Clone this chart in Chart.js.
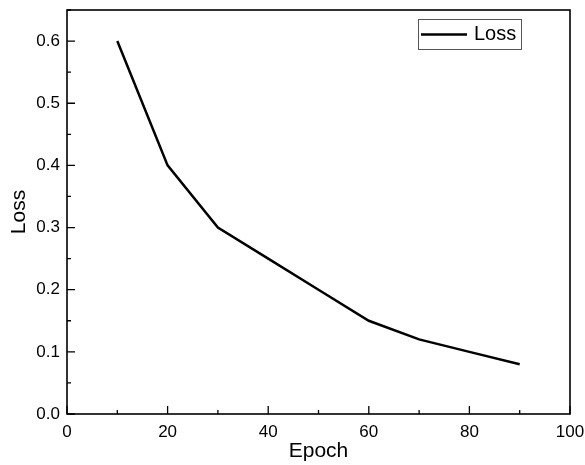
<!DOCTYPE html>
<html>
<head>
<meta charset="utf-8">
<script src="https://cdn.jsdelivr.net/npm/chart.js@4"></script>
<style>
  body { margin: 0; background: #fff; }
  #wrap { width: 585px; height: 465px; }
</style>
</head>
<body>
<div id="wrap"><canvas id="Chart" width="585" height="465"></canvas></div>
<script>
// data
const epochs = [10, 20, 30, 40, 50, 60, 70, 80, 90];
const loss = [0.6, 0.4, 0.3, 0.25, 0.2, 0.15, 0.12, 0.1, 0.08];
const xTicks = [0, 20, 40, 60, 80, 100];
const yTicks = [0, 0.1, 0.2, 0.3, 0.4, 0.5, 0.6];
const seriesName = 'Loss';

const FONT = '"Liberation Sans", Arial, sans-serif';

// frame + inward ticks (major and minor), like the origin-style plot
const frameTicks = {
  id: 'frameTicks',
  afterDraw(chart) {
    const { ctx, chartArea: a, scales } = chart;
    ctx.save();
    ctx.strokeStyle = '#000';
    ctx.lineWidth = 1.6;
    ctx.strokeRect(a.left, a.top, a.right - a.left, a.bottom - a.top);
    ctx.lineWidth = 1.3;
    ctx.beginPath();
    const xs = scales.x;
    for (let i = 0; i < xTicks.length; i++) {
      const px = xs.getPixelForValue(xTicks[i]);
      ctx.moveTo(px, a.bottom); ctx.lineTo(px, a.bottom - 8);
      if (i < xTicks.length - 1) {
        const mx = xs.getPixelForValue((xTicks[i] + xTicks[i + 1]) / 2);
        ctx.moveTo(mx, a.bottom); ctx.lineTo(mx, a.bottom - 4);
      }
    }
    const ys = scales.y;
    for (let i = 0; i < yTicks.length; i++) {
      const py = ys.getPixelForValue(yTicks[i]);
      ctx.moveTo(a.left, py); ctx.lineTo(a.left + 8, py);
      const mv = yTicks[i] + 0.05;
      if (mv <= ys.max) {
        const my = ys.getPixelForValue(mv);
        ctx.moveTo(a.left, my); ctx.lineTo(a.left + 4, my);
      }
    }
    ctx.stroke();
    ctx.restore();
  }
};

// legend box inside the plot, top right
const boxLegend = {
  id: 'boxLegend',
  afterDraw(chart) {
    const { ctx } = chart;
    ctx.save();
    ctx.strokeStyle = '#555';
    ctx.lineWidth = 1;
    ctx.strokeRect(418.5, 19.5, 103, 30);
    ctx.strokeStyle = '#000';
    ctx.lineWidth = 2.5;
    ctx.beginPath();
    ctx.moveTo(421, 34.5); ctx.lineTo(467, 34.5);
    ctx.stroke();
    ctx.fillStyle = '#000';
    ctx.font = '20px ' + FONT;
    ctx.textBaseline = 'middle';
    ctx.fillText(seriesName, 474, 34);
    ctx.restore();
  }
};

const noPad = s => { s.paddingLeft = 0; s.paddingRight = 0; s.paddingTop = 0; s.paddingBottom = 0; };

new Chart(document.getElementById('Chart').getContext('2d'), {
  type: 'line',
  data: {
    datasets: [{
      label: seriesName,
      data: epochs.map((e, i) => ({ x: e, y: loss[i] })),
      borderColor: '#000',
      borderWidth: 2.5,
      pointRadius: 0,
      tension: 0,
      fill: false
    }]
  },
  options: {
    responsive: false,
    animation: false,
    layout: { padding: { top: 10, right: 15, left: 0, bottom: 0 } },
    plugins: { legend: { display: false }, tooltip: { enabled: false } },
    scales: {
      x: {
        type: 'linear',
        min: 0, max: 100,
        afterBuildTicks: s => { s.ticks = xTicks.map(v => ({ value: v })); },
        afterFit: s => { s.height = 51; noPad(s); },
        grid: { display: false, drawTicks: false },
        border: { display: false },
        ticks: { color: '#000', padding: 8, font: { family: FONT, size: 17 }, maxRotation: 0 },
        title: { display: true, text: 'Epoch', color: '#000', font: { family: FONT, size: 21 }, padding: { top: 0, bottom: 1 } }
      },
      y: {
        min: 0, max: 0.65,
        afterBuildTicks: s => { s.ticks = yTicks.map(v => ({ value: v })); },
        afterFit: s => { s.width = 67; noPad(s); },
        grid: { display: false, drawTicks: false },
        border: { display: false },
        ticks: { color: '#000', padding: 7, font: { family: FONT, size: 17 }, callback: v => v.toFixed(1) },
        title: { display: true, text: 'Loss', color: '#000', font: { family: FONT, size: 21 }, padding: { top: 7, bottom: 0 } }
      }
    }
  },
  plugins: [frameTicks, boxLegend]
});
</script>
</body>
</html>
